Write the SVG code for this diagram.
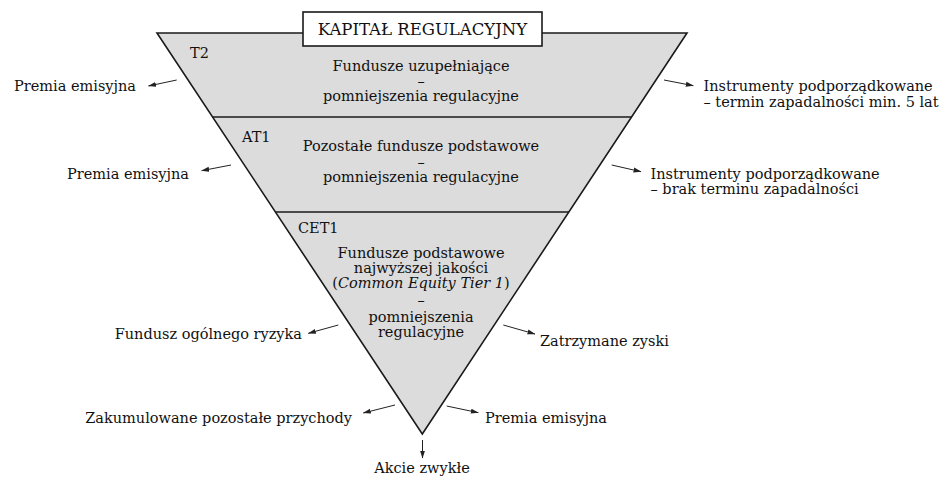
<svg xmlns="http://www.w3.org/2000/svg" width="940" height="477" viewBox="0 0 940 477">
<style>
text{font-family:"DejaVu Serif","Liberation Serif",serif;font-size:14.5px;fill:#111}
.c{text-anchor:middle}
.e{text-anchor:end}
.band{fill:#dcdcdc;stroke:#1a1a1a;stroke-width:1.6;stroke-linejoin:miter}
.div{stroke:#1a1a1a;stroke-width:1.6}
.arr{stroke:#222;stroke-width:1;fill:none;marker-end:url(#ah)}
</style>
<defs>
<marker id="ah" markerUnits="userSpaceOnUse" markerWidth="8" markerHeight="6" refX="7.5" refY="3" orient="auto">
<path d="M0,0.5 L8,3 L0,5.5 z" fill="#222"/>
</marker>
</defs>
<g id="triangle">
<polygon class="band" points="157,33 687,33 422.3,434"/>
<line class="div" x1="212.5" y1="117" x2="632" y2="117"/>
<line class="div" x1="275.5" y1="212" x2="569" y2="212"/>
</g>
<g id="title">
<rect x="303" y="12" width="239" height="34" fill="#fff" stroke="#1a1a1a" stroke-width="1.6"/>
<text class="c" x="422.5" y="34.5" style="font-size:16.5px">KAPITAŁ REGULACYJNY</text>
</g>
<g id="t2">
<text x="190" y="58">T2</text>
<text class="c" x="421" y="71">Fundusze uzupełniające</text>
<text class="c" x="421" y="86">–</text>
<text class="c" x="421" y="101">pomniejszenia regulacyjne</text>
</g>
<g id="at1">
<text x="242" y="142">AT1</text>
<text class="c" x="421" y="151">Pozostałe fundusze podstawowe</text>
<text class="c" x="421" y="166.5">–</text>
<text class="c" x="421" y="182">pomniejszenia regulacyjne</text>
</g>
<g id="cet1">
<text x="298" y="233">CET1</text>
<text class="c" x="421" y="257.5">Fundusze podstawowe</text>
<text class="c" x="421" y="272.8">najwyższej jakości</text>
<text class="c" x="421" y="288">(<tspan font-style="italic">Common Equity Tier 1</tspan>)</text>
<text class="c" x="421" y="305">–</text>
<text class="c" x="421" y="321.5">pomniejszenia</text>
<text class="c" x="421" y="336.7">regulacyjne</text>
</g>
<g id="label-t2-left"><text class="e" x="136" y="91">Premia emisyjna</text></g>
<g id="label-at1-left"><text class="e" x="189" y="178.5">Premia emisyjna</text></g>
<g id="label-cet1-left"><text class="e" x="302" y="338.5">Fundusz ogólnego ryzyka</text></g>
<g id="label-bottom-left"><text class="e" x="352" y="423.3">Zakumulowane pozostałe przychody</text></g>
<g id="label-t2-right"><text x="703.5" y="91">Instrumenty podporządkowane</text><text x="703.5" y="107">– termin zapadalności min. 5 lat</text></g>
<g id="label-at1-right"><text x="650.5" y="178.5">Instrumenty podporządkowane</text><text x="650.5" y="194">– brak terminu zapadalności</text></g>
<g id="label-cet1-right"><text x="540" y="346">Zatrzymane zyski</text></g>
<g id="label-bottom-right"><text x="485" y="423.3">Premia emisyjna</text></g>
<g id="label-bottom"><text class="c" x="422" y="473">Akcie zwykłe</text></g>
<g id="connectors">
<line class="arr" x1="176.7" y1="80" x2="148.5" y2="86"/>
<line class="arr" x1="231" y1="165" x2="201.7" y2="170.7"/>
<line class="arr" x1="338.3" y1="325" x2="308.3" y2="333.3"/>
<line class="arr" x1="395" y1="405" x2="363.3" y2="413"/>
<line class="arr" x1="664" y1="80" x2="693.3" y2="85.7"/>
<line class="arr" x1="611.7" y1="165" x2="641" y2="171.7"/>
<line class="arr" x1="503.3" y1="325" x2="535" y2="334"/>
<line class="arr" x1="446.7" y1="406" x2="478.3" y2="412.7"/>
<line class="arr" x1="422.5" y1="440" x2="422.5" y2="458"/>
</g>
</svg>
